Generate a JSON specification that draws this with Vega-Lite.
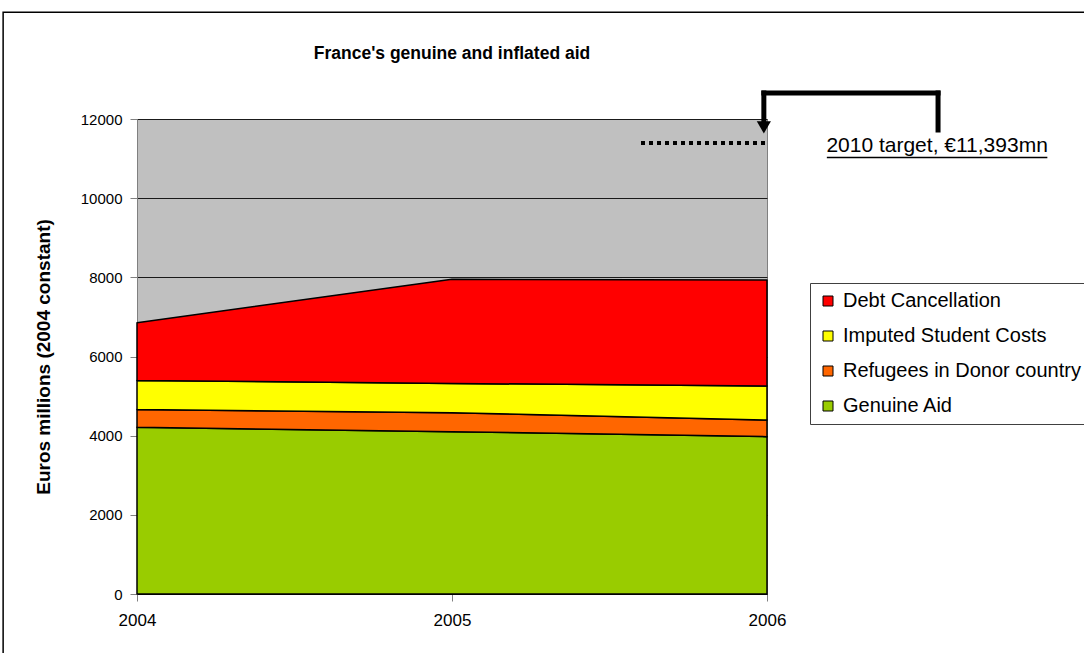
{
  "$schema": "https://vega.github.io/schema/vega-lite/v6.json",
  "width": 630,
  "height": 475,
  "autosize": "none",
  "padding": {"left": 137, "top": 119, "right": 317, "bottom": 59},
  "background": "white",
  "config": {
    "font": "Liberation Sans",
    "view": {"fill": "#C0C0C0", "stroke": "#808080", "strokeWidth": 1},
    "axis": {"labelColor": "black", "labelFontSize": 17, "tickColor": "#808080", "domainColor": "#808080", "tickSize": 7, "titleColor": "black"}
  },
  "title": {"text": "France's genuine and inflated aid", "fontSize": 17.5, "fontWeight": "bold", "font": "Liberation Sans", "anchor": "middle", "frame": "group", "color": "black", "offset": -51},
  "data": {
    "values": [
      {"year": 2004, "series": "Genuine Aid", "k": 1, "value": 4210},
      {"year": 2005, "series": "Genuine Aid", "k": 1, "value": 4100},
      {"year": 2006, "series": "Genuine Aid", "k": 1, "value": 3975},
      {"year": 2004, "series": "Refugees in Donor country", "k": 2, "value": 450},
      {"year": 2005, "series": "Refugees in Donor country", "k": 2, "value": 480},
      {"year": 2006, "series": "Refugees in Donor country", "k": 2, "value": 420},
      {"year": 2004, "series": "Imputed Student Costs", "k": 3, "value": 735},
      {"year": 2005, "series": "Imputed Student Costs", "k": 3, "value": 740},
      {"year": 2006, "series": "Imputed Student Costs", "k": 3, "value": 860},
      {"year": 2004, "series": "Debt Cancellation", "k": 4, "value": 1460},
      {"year": 2005, "series": "Debt Cancellation", "k": 4, "value": 2630},
      {"year": 2006, "series": "Debt Cancellation", "k": 4, "value": 2680}
    ]
  },
  "layer": [
    {
      "mark": {"type": "area", "stroke": "black", "strokeWidth": 1.5, "strokeJoin": "round"},
      "encoding": {
        "x": {"field": "year", "type": "quantitative", "scale": {"domain": [2004, 2006], "nice": false, "zero": false},
              "axis": {"tickCount": 2, "format": "d", "title": null, "grid": false, "labelPadding": 11, "labelFlush": false, "labelOverlap": false, "labelBound": false, "domainColor": "black"}},
        "y": {"field": "value", "type": "quantitative", "stack": "zero", "scale": {"domain": [0, 12000], "nice": false},
              "axis": {"values": [0, 2000, 4000, 6000, 8000, 10000, 12000], "format": "d", "title": "Euros millions (2004 constant)", "titleFontSize": 19, "titleFontWeight": "bold", "titlePadding": 27, "labelFontSize": 15, "labelPadding": 8, "labelOverlap": false, "grid": true, "gridColor": "#1a1a1a", "gridWidth": 1}},
        "color": {"field": "series", "type": "nominal",
                  "scale": {"domain": ["Debt Cancellation", "Imputed Student Costs", "Refugees in Donor country", "Genuine Aid"], "range": ["#FF0000", "#FFFF00", "#FF6600", "#99CC00"]},
                  "legend": {"title": null, "orient": "none", "legendX": 673, "legendY": 164, "strokeColor": "#404040", "padding": 8, "symbolType": "square", "symbolSize": 100, "symbolStrokeColor": "black", "symbolStrokeWidth": 1, "labelFontSize": 20, "labelLimit": 0, "labelColor": "black", "rowPadding": 15, "labelOffset": 5}},
        "order": {"field": "k", "type": "quantitative"}
      }
    },
    {
      "data": {"values": [{}]},
      "mark": {"type": "rect", "fill": null, "stroke": "black", "strokeWidth": 1.5},
      "encoding": {
        "x": {"datum": 2003.575, "type": "quantitative"},
        "x2": {"datum": 2007.5},
        "y": {"datum": 14700, "type": "quantitative"},
        "y2": {"datum": -2000}
      }
    },
    {
      "data": {"values": [{}]},
      "mark": {"type": "rule", "stroke": "black", "strokeWidth": 4, "strokeDash": [4, 4]},
      "encoding": {
        "x": {"datum": 2005.6, "type": "quantitative"},
        "x2": {"datum": 2005.995},
        "y": {"datum": 11393, "type": "quantitative"}
      }
    },
    {
      "data": {"values": [{}]},
      "mark": {"type": "rule", "stroke": "black", "strokeWidth": 5, "strokeCap": "square"},
      "encoding": {
        "x": {"datum": 2006.543, "type": "quantitative"},
        "y": {"datum": 11722, "type": "quantitative"},
        "y2": {"datum": 12657}
      }
    },
    {
      "data": {"values": [{}]},
      "mark": {"type": "rule", "stroke": "black", "strokeWidth": 5, "strokeCap": "square"},
      "encoding": {
        "x": {"datum": 2005.99, "type": "quantitative"},
        "x2": {"datum": 2006.543},
        "y": {"datum": 12657, "type": "quantitative"}
      }
    },
    {
      "data": {"values": [{}]},
      "mark": {"type": "rule", "stroke": "black", "strokeWidth": 5, "strokeCap": "square"},
      "encoding": {
        "x": {"datum": 2005.99, "type": "quantitative"},
        "y": {"datum": 11950, "type": "quantitative"},
        "y2": {"datum": 12657}
      }
    },
    {
      "data": {"values": [{}]},
      "mark": {"type": "point", "shape": "triangle-down", "filled": true, "color": "black", "size": 200, "opacity": 1},
      "encoding": {
        "x": {"datum": 2005.99, "type": "quantitative"},
        "y": {"datum": 11790, "type": "quantitative"}
      }
    },
    {
      "data": {"values": [{}]},
      "mark": {"type": "text", "fontSize": 21, "color": "black", "align": "center", "baseline": "alphabetic"},
      "encoding": {
        "x": {"datum": 2006.54, "type": "quantitative"},
        "y": {"datum": 11160, "type": "quantitative"},
        "text": {"value": "2010 target, €11,393mn"}
      }
    },
    {
      "data": {"values": [{}]},
      "mark": {"type": "rule", "stroke": "black", "strokeWidth": 1.5},
      "encoding": {
        "x": {"datum": 2006.19, "type": "quantitative"},
        "x2": {"datum": 2006.89},
        "y": {"datum": 11030, "type": "quantitative"}
      }
    }
  ]
}
